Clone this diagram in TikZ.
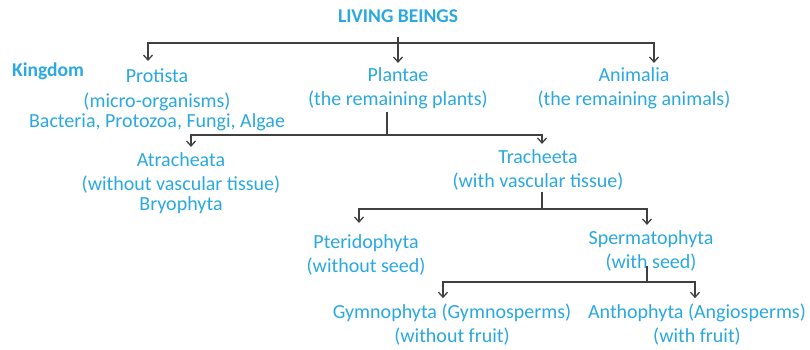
\documentclass[tikz,border=0pt]{standalone}
\usepackage{fontspec}
\setmainfont{Carlito}
\usetikzlibrary{arrows.meta}
\definecolor{seresAzul}{HTML}{2AA8E0}
\definecolor{seresGris}{HTML}{404040}

\begin{document}
\begin{tikzpicture}[x=1pt, y=-1pt,
      taxon/.style={text=seresAzul, align=center, inner sep=2pt, anchor=base,
                    font=\fontsize{20}{24}\selectfont},
      titulo/.style={taxon, font=\fontsize{19.5}{22}\selectfont\bfseries},
      rama/.style={draw=seresGris, line width=1.3pt},
      flecha/.style={rama, -{Straight Barb[length=5pt, width=9pt]}, shorten >=3pt}]
    \useasboundingbox (0,0) rectangle (810,350);
    % Reinos (base = ultima linea)
    \node[titulo] (root) at (398,23) {LIVING BEINGS};
    \node[titulo, anchor=base west] (king) at (10,77) {Kingdom};
    \node[taxon] (prot) at (157,127) {Protista\\(micro-organisms)\\[-4pt]Bacteria, Protozoa, Fungi, Algae};
    \node[taxon] (plan) at (398,106) {Plantae\\(the remaining plants)};
    \node[taxon] (anim) at (634,106) {Animalia\\(the remaining animals)};
    % Plantae
    \node[taxon] (atra) at (181,210) {Atracheata\\(without vascular tissue)\\[-4pt]Bryophyta};
    \node[taxon] (trac) at (538,187) {Tracheeta\\(with vascular tissue)};
    % Tracheeta
    \node[taxon] (pter) at (366,272) {Pteridophyta\\(without seed)};
    \node[taxon] (sper) at (651,268) {Spermatophyta\\(with seed)};
    % Spermatophyta
    \node[taxon] (gymn) at (452,342) {Gymnophyta (Gymnosperms)\\(without fruit)};
    \node[taxon] (anth) at (697,342) {Anthophyta (Angiosperms)\\(with fruit)};
    % ramas
    \coordinate (k0) at (398,43);
    \coordinate (k1) at (387,135);
    \coordinate (k2) at (542,209);
    \coordinate (k3) at (647,282);
    \draw[flecha, shorten <=12pt] (root) -- (plan);
    \draw[flecha, shorten >=6pt] (k0) -| ([xshift=-9pt]prot.north);
    \draw[flecha] (k0) -| ([xshift=20pt]anim.north);
    \draw[rama] ([xshift=-11pt]plan.south) -- (k1);
    \draw[flecha] (k1) -| ([xshift=10pt]atra.north);
    \draw[flecha] (k1) -| ([xshift=4pt]trac.north);
    \draw[rama] ([xshift=4pt]trac.south) -- (k2);
    \draw[flecha, shorten >=9pt] (k2) -| ([xshift=-7pt]pter.north);
    \draw[flecha] (k2) -| ([xshift=-4pt]sper.north);
    \draw[rama] ([xshift=-4pt, yshift=7pt]sper.south) -- (k3);
    \draw[flecha] (k3) -| ([xshift=-9pt]gymn.north);
    \draw[flecha] (k3) -| ([xshift=-2pt]anth.north);
\end{tikzpicture}
\end{document}
